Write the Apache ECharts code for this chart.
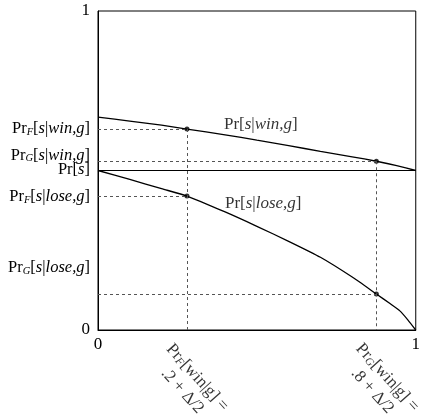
<!DOCTYPE html>
<html>
<head>
<meta charset="utf-8">
<script src="https://cdn.jsdelivr.net/npm/echarts@6/dist/echarts.min.js"></script>
<style>
html,body{margin:0;padding:0;background:#fff;}
#chart{width:423px;height:415px;}
</style>
</head>
<body>
<div id="chart"></div>
<script>
// curves
var winX = [0, 0.1, 0.2, 0.28, 0.4, 0.5, 0.6, 0.7, 0.8, 0.876, 0.94, 1];
var winY = [0.667, 0.655, 0.642, 0.63, 0.612, 0.595, 0.578, 0.56, 0.543, 0.529, 0.515, 0.5];
var loseX = [0, 0.1, 0.2, 0.28, 0.4, 0.5, 0.6, 0.7, 0.8, 0.876, 0.92, 0.95, 0.975, 1];
var loseY = [0.5, 0.472, 0.443, 0.42, 0.37, 0.325, 0.278, 0.228, 0.166, 0.113, 0.082, 0.06, 0.032, 0];
var prS = 0.5;
// the two marked points (x = .2+Δ/2 and .8+Δ/2)
var markX = [0.28, 0.876];
var markWin = [0.63, 0.529];
var markLose = [0.42, 0.113];
// y axis label positions and texts
var yLabelPos = [0, 0.194, 0.417, 0.503, 0.547, 0.63, 1];
var yLabelText = [
	'0',
	'{r|Pr}{sub|G}{r|[}{i|s}{r||}{i|lose,g}{r|]}',
	'{r|Pr}{sub|F}{r|[}{i|s}{r||}{i|lose,g}{r|]}',
	'{r|Pr[}{i|s}{r|]}',
	'{r|Pr}{sub|G}{r|[}{i|s}{r||}{i|win,g}{r|]}',
	'{r|Pr}{sub|F}{r|[}{i|s}{r||}{i|win,g}{r|]}',
	'1'
];
// rotated labels under the x axis
var xNoteX = [0.289, 0.887];
var xNoteY = [-0.17, -0.17];
var xNoteText = [
	'{r|Pr}{sub|F}{r|[win|g] =}\n{r|.2 + Δ/2}',
	'{r|Pr}{sub|G}{r|[win|g] =}\n{r|.8 + Δ/2}'
];
// curve names
var curveLabelX = [0.5125, 0.52];
var curveLabelY = [0.643, 0.398];
var curveLabelText = [
	'{r|Pr[}{i|s}{r||}{i|win,g}{r|]}',
	'{r|Pr[}{i|s}{r||}{i|lose,g}{r|]}'
];

var FONT = '"Liberation Serif", "Times New Roman", serif';
var rich = {
	r: {fontFamily: FONT, fontSize: 17, color: '#000'},
	i: {fontFamily: FONT, fontSize: 17, fontStyle: 'italic', color: '#000'},
	sub: {fontFamily: FONT, fontSize: 11, fontStyle: 'italic', color: '#000', padding: [6, 0, 0, 0]}
};
var richY = {
	r: {fontFamily: FONT, fontSize: 16.5, color: '#000', lineHeight: 14},
	i: {fontFamily: FONT, fontSize: 16.5, fontStyle: 'italic', color: '#000', lineHeight: 14},
	sub: {fontFamily: FONT, fontSize: 10.5, fontStyle: 'italic', color: '#000', padding: [6, 0, 0, 0], lineHeight: 14}
};

function zip(xs, ys){
	var out = [];
	for(var i=0;i<xs.length;i++){
		out.push([xs[i], ys[i]]);
	}
	return out;
}

var guideLines = [];
for(var i=0;i<markX.length;i++){
	guideLines.push([{coord:[0, markWin[i]]}, {coord:[markX[i], markWin[i]]}]);
	guideLines.push([{coord:[0, markLose[i]]}, {coord:[markX[i], markLose[i]]}]);
	guideLines.push([{coord:[markX[i], markWin[i]]}, {coord:[markX[i], 0]}]);
}

var myChart = echarts.init(document.getElementById('chart'));
var option = {
	animation: false,
	grid: {
		left: 98, top: 11, right: 5, bottom: 85,
		show: true, borderColor: '#000', borderWidth: 1
	},
	xAxis: {
		type: 'value', min: 0, max: 1, interval: 1,
		axisLine: {show: true, lineStyle: {color: '#000'}},
		axisTick: {show: false},
		splitLine: {show: false},
		axisLabel: {fontFamily: FONT, fontSize: 17, color: '#000', margin: 6}
	},
	yAxis: {
		type: 'value', min: 0, max: 1,
		axisLine: {show: true, lineStyle: {color: '#000'}},
		axisTick: {show: false},
		splitLine: {show: false},
		axisLabel: {
			customValues: yLabelPos,
			margin: 8,
			fontFamily: FONT, fontSize: 17, color: '#000',
			formatter: function(v, idx){
				for(var k=0;k<yLabelPos.length;k++){
					if(Math.abs(yLabelPos[k]-v) < 1e-6) return yLabelText[k];
				}
				return '';
			},
			rich: richY
		}
	},
	series: [
		{
			name: 'win', type: 'line', data: zip(winX, winY), smooth: 0.2,
			symbol: 'none', lineStyle: {color: '#000', width: 1.3},
			markLine: {
				silent: true, symbol: 'none', label: {show: false},
				lineStyle: {color: '#555', type: [3, 3], width: 1},
				data: guideLines
			}
		},
		{
			name: 'lose', type: 'line', data: zip(loseX, loseY), smooth: 0.2,
			symbol: 'none', lineStyle: {color: '#000', width: 1.3}
		},
		{
			name: 'prs', type: 'line', data: [[0, prS], [1, prS]],
			symbol: 'none', lineStyle: {color: '#000', width: 1}
		},
		{
			name: 'points', type: 'scatter', symbolSize: 5,
			itemStyle: {color: '#000'},
			data: zip(markX, markWin).concat(zip(markX, markLose))
		},
		{
			name: 'curveNames', type: 'scatter', symbolSize: 0,
			label: {show: true, position: 'inside', rich: rich,
				formatter: function(p){ return curveLabelText[p.dataIndex]; }},
			data: zip(curveLabelX, curveLabelY)
		},
		{
			name: 'xNotes', type: 'scatter', symbolSize: 0, clip: false,
			label: {show: true, position: 'inside', rotate: -48, align: 'center', rich: rich,
				lineHeight: 20,
				formatter: function(p){ return xNoteText[p.dataIndex]; }},
			data: zip(xNoteX, xNoteY)
		}
	]
};
myChart.setOption(option);
</script>
</body>
</html>
